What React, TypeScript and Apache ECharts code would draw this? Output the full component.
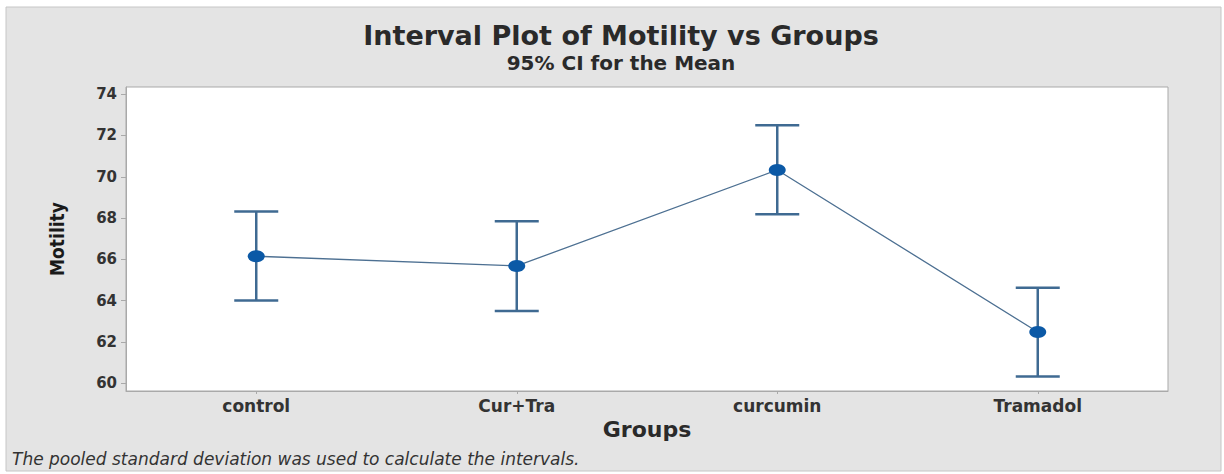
import React, { useEffect, useRef } from "react";
import * as echarts from "echarts";

const categories = ["control", "Cur+Tra", "curcumin", "Tramadol"];
const means = [66.15, 65.68, 70.33, 62.48];
const lowers = [64.0, 63.5, 68.18, 60.32];
const uppers = [68.32, 67.84, 72.5, 64.62];
const yTicks = [60, 62, 64, 66, 68, 70, 72, 74];

const titleText = "Interval Plot of Motility vs Groups";
const subtitleText = "95% CI for the Mean";
const xName = "Groups";
const yName = "Motility";
const footnote = "The pooled standard deviation was used to calculate the intervals.";

const FONT = "'DejaVu Sans', 'Open Sans', sans-serif";
const BAR = "#3f6a92";

export default function App() {
  const ref = useRef<HTMLDivElement>(null);
  useEffect(() => {
    if (!ref.current) return;
    const chart = echarts.init(ref.current, undefined, { renderer: "svg" });
    const errData = categories.map((_, i) => [i, lowers[i], uppers[i]]);
    chart.setOption({
      animation: false,
      backgroundColor: "#ffffff",
      graphic: [
        {
          type: "rect",
          z: -100,
          shape: { x: 6, y: 7, width: 1215, height: 464 },
          style: { fill: "#e4e4e4", stroke: "#c6c6c6", lineWidth: 1 },
        },
      ],
      title: [
        {
          text: titleText,
          left: 616,
          textAlign: "center",
          top: 17,
          textStyle: { fontFamily: FONT, fontSize: 27, fontWeight: "bold", color: "#2a2a2a" },
        },
        {
          text: subtitleText,
          left: 616,
          textAlign: "center",
          top: 48,
          textStyle: { fontFamily: FONT, fontSize: 20, fontWeight: "bold", color: "#2a2a2a" },
        },
        {
          text: footnote,
          left: 7,
          top: 445,
          textStyle: { fontFamily: FONT, fontSize: 17, fontStyle: "italic", fontWeight: "normal", color: "#333" },
        },
      ],
      grid: {
        left: 126,
        right: 56,
        top: 87,
        bottom: 83,
        show: true,
        backgroundColor: "#ffffff",
        borderColor: "#a9a9a9",
        borderWidth: 1,
      },
      xAxis: {
        type: "category",
        data: categories,
        boundaryGap: true,
        name: xName,
        nameLocation: "middle",
        nameGap: 25,
        nameTextStyle: { fontFamily: FONT, fontSize: 22, fontWeight: "bold", color: "#2a2a2a" },
        axisLine: { lineStyle: { color: "#a9a9a9" } },
        axisTick: { show: true, alignWithLabel: true, length: 3, lineStyle: { color: "#a9a9a9" } },
        axisLabel: { fontFamily: FONT, fontSize: 17, fontWeight: "bold", color: "#333", margin: 6 },
        splitLine: { show: false },
      },
      yAxis: {
        type: "value",
        min: 59.62,
        max: 74.35,
        name: yName,
        nameLocation: "middle",
        nameGap: 60,
        nameRotate: 90,
        nameTextStyle: {
          fontFamily: "'Liberation Sans Narrow', 'DejaVu Sans Condensed', 'Liberation Sans', sans-serif",
          fontSize: 19,
          fontWeight: "bold",
          color: "#1a1a1a",
        },
        axisLine: { show: true, lineStyle: { color: "#a9a9a9" } },
        axisTick: { show: true, length: 5, customValues: yTicks, lineStyle: { color: "#a9a9a9" } },
        axisLabel: { fontFamily: FONT, fontSize: 15, fontWeight: "bold", color: "#333", margin: 9, customValues: yTicks },
        splitLine: { show: false },
      },
      series: [
        {
          type: "custom",
          z: 2,
          data: errData,
          renderItem: (params: any, api: any) => {
            const idx = api.value(0);
            const lo = api.coord([idx, api.value(1)]);
            const hi = api.coord([idx, api.value(2)]);
            const hw = 22;
            const style = { stroke: BAR, lineWidth: 2.5, fill: "none" };
            return {
              type: "group",
              children: [
                { type: "line", shape: { x1: lo[0], y1: lo[1], x2: hi[0], y2: hi[1] }, style },
                { type: "line", shape: { x1: lo[0] - hw, y1: lo[1], x2: lo[0] + hw, y2: lo[1] }, style },
                { type: "line", shape: { x1: hi[0] - hw, y1: hi[1], x2: hi[0] + hw, y2: hi[1] }, style },
              ],
            };
          },
        },
        {
          type: "line",
          z: 3,
          data: means,
          symbol: "circle",
          symbolSize: [17, 12],
          itemStyle: { color: "#0b59a6" },
          lineStyle: { color: "#4d7092", width: 1.3 },
        },
      ],
    });
    return () => chart.dispose();
  }, []);
  return (
    <div
      ref={ref}
      style={{ position: "absolute", left: 0, top: 0, width: 1224, height: 474 }}
    />
  );
}
